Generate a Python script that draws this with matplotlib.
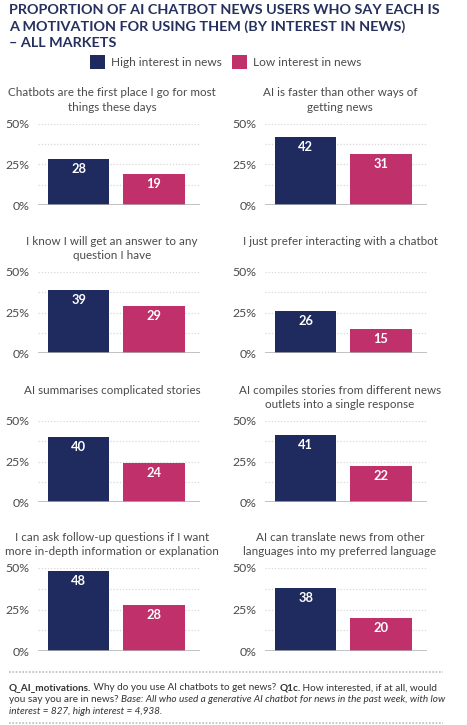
import matplotlib
matplotlib.use("Agg")
import matplotlib.pyplot as plt
from matplotlib.patches import Rectangle
from matplotlib.lines import Line2D

plt.rcParams['font.family'] = ['Lato', 'DejaVu Sans']

titles = [
    "Chatbots are the first place I go for most\nthings these days",
    "AI is faster than other ways of\ngetting news",
    "I know I will get an answer to any\nquestion I have",
    "I just prefer interacting with a chatbot",
    "AI summarises complicated stories",
    "AI compiles stories from different news\noutlets into a single response",
    "I can ask follow-up questions if I want\nmore in-depth information or explanation",
    "AI can translate news from other\nlanguages into my preferred language",
]
high_interest = [28, 42, 39, 26, 40, 41, 48, 38]
low_interest = [19, 31, 29, 15, 24, 22, 28, 20]
series_names = ["High interest in news", "Low interest in news"]
yticks = [0, 25, 50]
ytick_labels = ["0%", "25%", "50%"]
chart_title = ["PROPORTION OF AI CHATBOT NEWS USERS WHO SAY EACH IS",
               "A MOTIVATION FOR USING THEM (BY INTEREST IN NEWS)",
               "\u2013 ALL MARKETS"]

NAVY = "#1f2b5f"
PINK = "#c0306b"
TITLE_C = "#26305e"
TEXT_C = "#4a4a4a"
FOOT_C = "#333333"

W, H = 467, 725
fig = plt.figure(figsize=(W / 100, H / 100), dpi=100)
renderer = fig.canvas.get_renderer()


def fx(px):
    return px / W


def fy(py):
    return 1 - py / H


def width_px(t):
    return t.get_window_extent(renderer).width


def fit_size(text, target, weight="normal", style="normal", base=10.0):
    t = fig.text(0, 0, text, fontsize=base, fontweight=weight, style=style)
    w = width_px(t)
    t.remove()
    return base * target / w


# Title
tsize = fit_size(chart_title[0], 433, weight="bold")
for k, line in enumerate(chart_title):
    fig.text(fx(9), fy(9.5 + 16.3 * k), line, ha="left", va="center_baseline",
             fontsize=tsize, fontweight="bold", color=TITLE_C)

# Legend
lsize = fit_size(series_names[0], 111)
for sx, col, name in [(90, NAVY, series_names[0]), (232, PINK, series_names[1])]:
    fig.patches.append(Rectangle((fx(sx), fy(69)), fx(15), 14 / H, transform=fig.transFigure,
                                 facecolor=col, edgecolor="none"))
    fig.text(fx(sx + 21), fy(62), name, ha="left", va="center_baseline", fontsize=lsize, color=TEXT_C)

# Panels
col_axes = [(38, 162), (265, 162)]
title_cx = [112, 340]
row_top = [123.5, 271.7, 420.7, 568.0]
row_bot = [205.0, 353.3, 502.3, 651.0]
psize = fit_size(titles[0].split("\n")[0], 206)
ticksize = fit_size("50%", 24) 
valsize = fit_size("28", 15, weight="bold")

for i in range(8):
    r, c = divmod(i, 2)
    x0, w = col_axes[c]
    top, bot = row_top[r], row_bot[r]
    ax = fig.add_axes([fx(x0), fy(bot), fx(w), (bot - top) / H])
    vals = [high_interest[i], low_interest[i]]
    bars = ax.bar([0, 1], vals, width=0.813, color=[NAVY, PINK], zorder=3)
    ax.set_ylim(0, 50)
    ax.set_xlim(-0.54, 1.61)
    for g in [12.5, 25, 37.5, 50]:
        ax.axhline(g, color="#d8d8d8", lw=0.9, ls=(0, (1, 1.5)), zorder=1)
    ax.axhline(0, color="#b0b0b0", lw=1.8, zorder=4)
    for s in ax.spines.values():
        s.set_visible(False)
    ax.set_xticks([])
    ax.set_yticks(yticks)
    ax.set_yticklabels(ytick_labels)
    ax.tick_params(axis="y", length=0, pad=6, labelsize=ticksize, labelcolor=TEXT_C)
    for b, v in zip(bars, vals):
        ax.annotate(str(v), (b.get_x() + b.get_width() / 2, v), xytext=(0, -10 * 0.72),
                    textcoords="offset points", ha="center", va="center",
                    color="white", fontweight="bold", fontsize=valsize, zorder=5)
    for k, line in enumerate(titles[i].split("\n")):
        fig.text(fx(title_cx[c]), fy(top - 31.5 + 14.3 * k), line, ha="center",
                 va="center_baseline", fontsize=psize, color=TEXT_C)

# Footer
for yy in [672, 723]:
    fig.lines.append(Line2D([fx(9), fx(443)], [fy(yy), fy(yy)], transform=fig.transFigure,
                            color="#bbbbbb", lw=1.2, ls=(0, (1, 1))))

line1 = [("Q_AI_motivations.", "bold", "normal"),
         (" Why do you use AI chatbots to get news? ", "normal", "normal"),
         ("Q1c.", "bold", "normal"),
         (" How interested, if at all, would", "normal", "normal")]
line2 = [("you say you are in news? ", "normal", "normal"),
         ("Base: All who used a generative AI chatbot for news in the past week, with low", "normal", "italic")]
line3 = [("interest = 827, high interest = 4,938.", "normal", "italic")]


def draw_parts(parts, y, size):
    x = 9.0
    for txt, wgt, sty in parts:
        t = fig.text(fx(x), fy(y), txt, ha="left", va="center_baseline", fontsize=size,
                     fontweight=wgt, style=sty, color=FOOT_C)
        x += width_px(t)


def parts_width(parts, size):
    tot = 0
    for txt, wgt, sty in parts:
        t = fig.text(0, 0, txt, fontsize=size, fontweight=wgt, style=sty)
        tot += width_px(t)
        t.remove()
    return tot


fsize = 10.0 * 426 / parts_width(line1, 10.0)
draw_parts(line1, 687, fsize)
draw_parts(line2, 699, fsize)
draw_parts(line3, 711, fsize)

fig.savefig("out.png", dpi=100, facecolor="white")
